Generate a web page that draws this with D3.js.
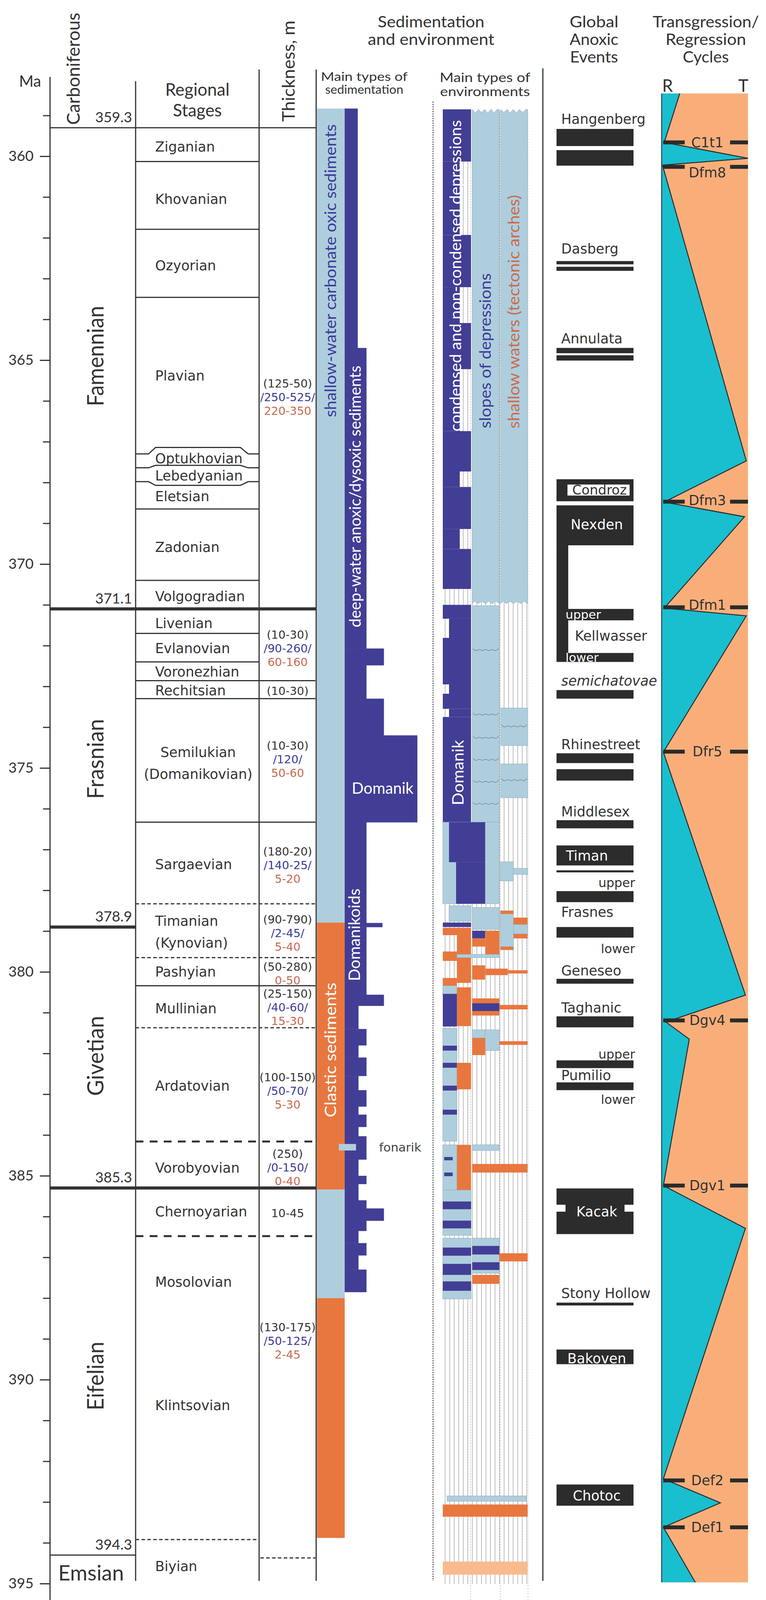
<!DOCTYPE html>
<html>
<head>
<meta charset="utf-8">
<script src="https://cdn.jsdelivr.net/npm/d3@7/dist/d3.min.js"></script>
<style>
body { margin: 0; background: #fff; }
svg { display: block; }
</style>
</head>
<body>
<svg id="chart" width="1960" height="4160"></svg>
<script>
// ---------- data (ages in Ma) ----------
const majorTicks = [360, 365, 370, 375, 380, 385, 390, 395];
const minorTicks = [359, 361, 362, 363, 364, 366, 367, 368, 369, 371, 372, 373, 374, 376, 377, 378, 379,
  381, 382, 383, 384, 386, 387, 388, 389, 391, 392, 393, 394];

const periodNames = ["Famennian", "Frasnian", "Givetian", "Eifelian"];
const periodLabelMa = [364.9, 374.78, 382.06, 389.91];
const boundaryAges = [359.3, 371.1, 378.9, 385.3, 394.3];

const stageLabels = [
  ["Ziganian", 359.77], ["Khovanian", 361.05], ["Ozyorian", 362.68], ["Plavian", 365.38],
  ["Optukhovian", 367.41], ["Lebedyanian", 367.83], ["Eletsian", 368.34], ["Zadonian", 369.59],
  ["Volgogradian", 370.79], ["Livenian", 371.45], ["Evlanovian", 372.07], ["Voronezhian", 372.64],
  ["Rechitsian", 373.10], ["Semilukian|(Domanikovian)", 374.88], ["Sargaevian", 377.36],
  ["Timanian|(Kynovian)", 379.02], ["Pashyian", 380.0], ["Mullinian", 380.9], ["Ardatovian", 382.79],
  ["Vorobyovian", 384.81], ["Chernoyarian", 385.88], ["Mosolovian", 387.6], ["Klintsovian", 390.63],
  ["Biyian", 394.58]
];

// [age, line kind, how far it reaches]
const stageBounds = [
  [360.13, "solid", "stage"], [361.79, "solid", "stage"], [363.46, "solid", "stage"],
  [368.65, "solid", "stage"], [370.4, "solid", "stage"], [371.7, "solid", "stage"],
  [372.4, "solid", "stage"], [372.86, "solid", "both"], [373.3, "solid", "both"],
  [376.33, "solid", "both"], [378.33, "dash", "both"], [379.65, "dash", "both"],
  [380.34, "solid", "both"], [381.37, "dash", "both"], [384.16, "bigdash", "both"],
  [386.48, "bigdash", "both"], [393.92, "dash", "stage"], [394.37, "dash", "thick"]
];
// Optukhovian / Lebedyanian lens boundaries: [age, bulge]
const lensBounds = [[367.30, -0.16], [367.64, -0.06], [367.98, 0.09]];

const thicknessNotes = [
  [365.91, [["(125-50)", "k"], ["/250-525/", "b"], ["220-350", "r"]]],
  [372.07, [["(10-30)", "k"], ["/90-260/", "b"], ["60-160", "r"]]],
  [373.11, [["(10-30)", "k"]]],
  [374.79, [["(10-30)", "k"], ["/120/", "b"], ["50-60", "r"]]],
  [377.38, [["(180-20)", "k"], ["/140-25/", "b"], ["5-20", "r"]]],
  [379.05, [["(90-790)", "k"], ["/2-45/", "b"], ["5-40", "r"]]],
  [380.04, [["(50-280)", "k"], ["0-50", "r"]]],
  [380.87, [["(25-150)", "k"], ["/40-60/", "b"], ["15-30", "r"]]],
  [382.92, [["(100-150)", "k"], ["/50-70/", "b"], ["5-30", "r"]]],
  [384.8, [["(250)", "k"], ["/0-150/", "b"], ["0-40", "r"]]],
  [385.92, [["10-45", "k"]]],
  [389.05, [["(130-175)", "k"], ["/50-125/", "b"], ["2-45", "r"]]]
];

// main types of sedimentation
const sedBase = [[358.83, 378.79, "carbonate"], [378.79, 385.34, "clastic"],
  [385.34, 388.0, "carbonate"], [388.0, 393.88, "clastic"]];
// deep-water anoxic sediments: [top, bottom, relative extent 0-10]
const anoxicSteps = [
  [358.83, 364.7, 1.8], [364.7, 372.07, 3.0], [372.07, 372.48, 5.4], [372.48, 373.3, 3.0],
  [373.3, 374.2, 5.4], [374.2, 376.33, 10], [376.33, 378.8, 3.0], [378.8, 378.9, 5.2],
  [378.9, 380.56, 3.0], [380.56, 380.83, 5.4], [380.83, 381.4, 1.9], [381.4, 381.8, 3.0],
  [381.8, 382.1, 1.9], [382.1, 382.55, 3.0], [382.55, 382.9, 1.9], [382.9, 383.3, 3.0],
  [383.3, 383.5, 1.9], [383.5, 383.8, 3.0], [383.8, 384.03, 1.9], [384.03, 384.6, 3.0],
  [384.6, 385.0, 1.9], [385.0, 385.2, 3.0], [385.2, 385.6, 1.9], [385.6, 385.8, 3.0],
  [385.8, 386.1, 5.4], [386.1, 386.35, 3.0], [386.35, 386.65, 1.9], [386.65, 386.95, 3.0],
  [386.95, 387.3, 1.9], [387.3, 387.85, 3.0]
];
const fonarik = [384.22, 384.38];

// main types of environments: [type, top, bottom, from, to] (0-1 depressions, 1-2 slopes, 2-3 shallow)
const envBlocks = [
  ["d", 358.85, 360.13, 0, 1], ["d", 360.13, 361.93, 0, 0.6], ["d", 361.93, 363.21, 0, 1],
  ["d", 363.21, 364.09, 0, 0.6], ["d", 364.09, 365.22, 0, 1], ["d", 365.22, 366.74, 0, 0.6],
  ["d", 366.74, 367.73, 0, 1], ["d", 367.73, 368.11, 0, 0.6], ["d", 368.11, 369.14, 0, 1],
  ["d", 369.14, 369.63, 0, 0.6], ["d", 369.63, 370.61, 0, 1],
  ["d", 371.0, 371.34, 0, 1], ["d", 371.34, 371.81, 0.22, 1], ["d", 371.81, 372.95, 0, 1],
  ["d", 372.95, 373.18, 0.22, 1], ["d", 373.18, 373.55, 0, 1], ["d", 373.55, 373.75, 0.22, 1],
  ["d", 373.75, 376.33, 0, 1],
  ["l", 371.02, 376.33, 1.04, 2], ["l", 373.53, 374.45, 2.05, 3], ["l", 374.9, 375.73, 2.05, 3],
  ["l", 376.33, 378.33, 0, 2], ["d", 376.33, 377.31, 0.22, 1.5], ["d", 377.31, 378.33, 0.47, 1.5],
  ["l", 377.30, 377.77, 2.04, 2.5], ["l", 377.46, 377.61, 2.5, 3],
  ["l", 378.38, 378.76, 0.22, 1], ["l", 378.42, 378.96, 1.04, 2], ["l", 378.5, 379.46, 2.04, 2.5],
  ["o", 378.5, 378.58, 2.04, 2.5], ["o", 379.38, 379.46, 2.04, 2.5], ["o", 378.67, 378.84, 2.5, 3],
  ["l", 378.84, 379.07, 2.5, 3], ["o", 379.07, 379.18, 2.5, 3], ["d", 378.79, 378.9, 0, 1],
  ["o", 378.92, 379.1, 0, 1], ["o", 379.1, 380.27, 0.5, 1], ["d", 378.99, 379.18, 1.04, 1.5],
  ["o", 379.18, 379.38, 1.04, 1.5], ["o", 378.99, 379.62, 1.5, 2], ["o", 379.5, 379.73, 0, 0.5],
  ["l", 379.57, 379.65, 0.5, 2], ["o", 379.84, 380.19, 1.04, 1.5], ["o", 379.92, 380.08, 1.5, 2.3],
  ["o", 379.96, 380.04, 2.3, 3], ["o", 380.15, 380.34, 0, 0.5], ["l", 380.34, 380.54, 0, 0.5],
  ["d", 380.54, 381.34, 0, 0.5], ["o", 380.38, 381.33, 0.5, 1], ["o", 380.65, 381.07, 1.04, 2],
  ["d", 380.77, 380.96, 1.04, 2], ["o", 380.81, 380.92, 2, 3],
  ["l", 381.38, 384.15, 0, 0.5], ["d", 381.81, 381.93, 0, 0.5], ["d", 382.23, 382.35, 0, 0.5],
  ["d", 382.79, 382.91, 0, 0.5], ["d", 383.38, 383.5, 0, 0.5], ["l", 381.42, 381.62, 1.04, 1.5],
  ["l", 381.42, 381.93, 1.5, 2], ["o", 381.62, 382.04, 1.04, 1.5], ["o", 381.7, 381.79, 2, 3],
  ["o", 382.23, 382.88, 0.5, 1],
  ["l", 384.24, 385.35, 0, 0.5], ["d", 384.54, 384.62, 0.05, 0.35], ["d", 384.92, 385.01, 0.05, 0.35],
  ["o", 384.24, 385.35, 0.5, 1], ["l", 384.24, 384.38, 1.04, 2], ["o", 384.71, 384.92, 1.04, 3],
  ["l", 385.35, 386.46, 0, 1], ["d", 385.63, 385.82, 0, 1], ["d", 386.1, 386.29, 0, 1],
  ["l", 386.53, 388.02, 0, 1], ["d", 386.76, 386.96, 0, 1], ["d", 387.16, 387.43, 0, 1],
  ["d", 387.59, 387.82, 0, 1], ["l", 386.53, 387.39, 1.04, 2], ["d", 386.72, 386.93, 1.04, 2],
  ["d", 387.12, 387.31, 1.04, 2], ["o", 387.43, 387.65, 1.04, 2], ["o", 386.9, 387.1, 2, 3],
  ["l", 392.85, 392.98, 0.15, 2.95], ["o", 393.06, 393.36, 0, 3], ["p", 394.46, 394.78, 0, 3]
];
// upper light-blue slope / shallow-water bands with ragged edges
const envRagged = [[358.85, 370.97, 1.04, 2], [358.85, 370.97, 2.05, 3]];
// wavy bedding lines: [age, from, to]
const envWaves = [[372.11, 1.04, 2], [373.69, 1.04, 2], [374.26, 1.04, 2], [374.8, 1.04, 2],
  [375.34, 1.04, 2], [375.88, 1.04, 2], [373.98, 2.05, 3], [375.3, 2.05, 3]];

// global anoxic events
const eventBars = [[359.33, 359.75], [359.85, 360.23], [362.57, 362.65], [362.71, 362.81],
  [364.70, 364.83], [364.88, 365.01], [371.10, 371.38], [372.18, 372.40], [373.09, 373.30],
  [374.64, 374.88], [375.03, 375.31], [376.28, 376.48], [377.51, 377.56], [378.02, 378.29],
  [378.90, 379.16], [380.17, 380.29], [381.09, 381.36], [382.17, 382.36], [382.71, 382.90],
  [388.11, 388.18]];
const eventBlocks = [[367.92, 368.46], [368.56, 369.54], [376.90, 377.39], [385.31, 386.43],
  [389.26, 389.62], [392.57, 393.09]];
const kellwasserStem = [369.54, 372.38];
const condrozGap = [368.05, 368.32];
const kacakNotch = [385.71, 385.88];
const eventLabels = [
  ["Hangenberg", 359.09, "name"], ["Dasberg", 362.27, "name"], ["Annulata", 364.47, "name"],
  ["Condroz", 368.18, "framed"], ["Nexden", 369.03, "inner"], ["upper", 371.24, "kwIn"],
  ["Kellwasser", 371.76, "kw"], ["lower", 372.29, "kwIn"], ["semichatovae", 372.86, "italic"],
  ["Rhinestreet", 374.42, "name"], ["Middlesex", 376.07, "name"], ["Timan", 377.15, "innerLeft"],
  ["upper", 377.81, "sub"], ["Frasnes", 378.53, "name"], ["lower", 379.43, "sub"],
  ["Geneseo", 379.97, "name"], ["Taghanic", 380.88, "name"], ["upper", 382.02, "sub"],
  ["Pumilio", 382.54, "name"], ["lower", 383.13, "sub"], ["Kacak", 385.88, "inner"],
  ["Stony Hollow", 387.88, "name"], ["Bakoven", 389.48, "inner"], ["Chotoc", 392.84, "inner"]
];

// transgression / regression curve: 0 = full regression, 1 = full transgression
const trMa = [358.46, 359.66, 360.05, 360.22, 367.47, 368.48, 368.84, 371.08, 371.27, 374.61,
  380.57, 381.23, 381.65, 385.24, 386.29, 392.43, 393.02, 393.62, 394.97];
const trLevel = [0.21, 0.03, 1.0, 0.01, 0.98, 0.03, 0.96, 0.03, 0.98, 0.02,
  0.97, 0.05, 0.32, 0.02, 0.97, 0.02, 0.68, 0.02, 0.39];
const seqNames = ["C1t1", "Dfm8", "Dfm3", "Dfm1", "Dfr5", "Dgv4", "Dgv1", "Def2", "Def1"];
const seqMa = [359.66, 360.26, 368.47, 371.06, 374.6, 381.19, 385.24, 392.47, 393.62];
const seqLabelMa = [359.66, 360.40, 368.44, 371.0, 374.6, 381.19, 385.24, 392.47, 393.62];

// ---------- style ----------
const ink = "#333333";
const darkBlue = "#423e95";
const lightBlue = "#aecedd";
const clastic = "#e8773f";
const paleOrange = "#f8bb8d";
const cyan = "#19becf";
const peach = "#f9ae7a";
const evBlack = "#2c2c2c";
const txtBlue = "#3d3a99";
const txtBrown = "#cc6a4c";
const fCal = "Lato, 'Open Sans', sans-serif";
const fVer = "'DejaVu Sans', Verdana, sans-serif";
const noteColor = { k: ink, b: "#3b3b9b", r: "#c8694f" };
const envColor = { d: darkBlue, l: lightBlue, o: clastic, p: paleOrange };

// ---------- scales ----------
const y = d3.scaleLinear().domain([360, 395]).range([400, 4054]);
const xAnox = d3.scaleLinear().domain([0, 10]).range([882, 1068]);
const xEnv = d3.scaleLinear().domain([0, 3]).range([1133, 1350]);
const xTR = d3.scaleLinear().domain([0, 1]).range([1693, 1914]);

const svg = d3.select("#chart");
svg.append("rect").attr("width", 1960).attr("height", 4160).attr("fill", "#fff");

function hText(sel, txt, x, yy, size, opts = {}) {
  const t = sel.append("text").attr("x", x).attr("y", yy)
    .attr("font-family", opts.family || fCal).attr("font-size", size)
    .attr("fill", opts.fill || ink).attr("text-anchor", opts.anchor || "middle")
    .attr("dy", opts.dy || null).attr("font-style", opts.italic ? "italic" : null)
    .text(txt);
  if (opts.len) t.attr("textLength", opts.len).attr("lengthAdjust", "spacingAndGlyphs");
  return t;
}
// several lines in one text element
function mText(sel, lines, x, y0, size, lh, opts = {}) {
  const t = sel.append("text")
    .attr("font-family", opts.family || fCal).attr("font-size", size)
    .attr("fill", opts.fill || ink).attr("text-anchor", opts.anchor || "middle");
  lines.forEach((l, i) => {
    const s = t.append("tspan").attr("x", x).attr("y", y0 + i * lh).attr("dy", opts.dy || null);
    if (Array.isArray(l)) s.attr("fill", l[1]).text(l[0]); else s.text(l);
  });
  return t;
}
function vText(sel, txt, cx, cy, size, len, fill) {
  return sel.append("text")
    .attr("transform", `translate(${cx},${cy}) rotate(-90)`)
    .attr("text-anchor", "middle").attr("dy", "0.35em")
    .attr("font-family", fCal).attr("font-size", size).attr("fill", fill)
    .attr("textLength", len).attr("lengthAdjust", "spacingAndGlyphs")
    .text(txt);
}

// ---------- headers ----------
const head = svg.append("g");
hText(head, "Ma", 77, 222, 40);
vText(head, "Carboniferous", 188, 176, 46, 287, ink);
mText(head, ["Regional", "Stages"], 505, 245, 44, 53);
vText(head, "Thickness, m", 739, 182, 44, 259, ink);
// tight multi-line headers: stretched to the widths of the original lettering
[["Sedimentation", 273, 70], ["and environment", 324, 115]].forEach(([t, w, yy]) =>
  hText(head, t, 1103, yy, 40, { len: w }));
hText(head, "Main types of", 932, 207, 31, { len: 222 });
hText(head, "sedimentation", 932, 240, 31, { len: 200 });
hText(head, "Main types of", 1241, 210, 33, { len: 232 });
hText(head, "environments", 1241, 246, 33, { len: 230 });
[["Global", 125], ["Anoxic", 125], ["Events", 123]].forEach(([t, w], i) =>
  hText(head, t, 1520, 70 + i * 45, 40, { len: w }));
[["Transgression/", 272], ["Regression", 206], ["Cycles", 118]].forEach(([t, w], i) =>
  hText(head, t, 1806, 70 + i * 45, 40, { len: w }));

// ---------- time axis ----------
const gMajor = svg.append("g").attr("transform", "translate(128,0)")
  .call(d3.axisLeft(y).tickValues(majorTicks).tickSize(26).tickPadding(16).tickFormat(d3.format("d")));
const gMinor = svg.append("g").attr("transform", "translate(128,0)")
  .call(d3.axisLeft(y).tickValues(minorTicks).tickSize(18).tickFormat(""));
[gMajor, gMinor].forEach(g => {
  g.select(".domain").remove();
  g.selectAll("line").attr("stroke", ink).attr("stroke-width", 3);
});
gMajor.selectAll("text").attr("font-family", fCal).attr("font-size", 37).attr("fill", ink);
svg.append("line").attr("x1", 128).attr("x2", 128).attr("y1", 197).attr("y2", 4113)
  .attr("stroke", ink).attr("stroke-width", 3);

// column frames
const frame = svg.append("g").attr("stroke", ink).attr("stroke-width", 3);
[[347, 208], [663, 178], [809, 178], [1389, 175]].forEach(([x, top]) => {
  frame.append("line").attr("x1", x).attr("x2", x).attr("y1", top).attr("y2", 4047);
});

// ---------- periods ----------
const gPer = svg.append("g");
const periodLineSpan = { 359.3: [128, 809, 3], 371.1: [128, 809, 8], 378.9: [128, 347, 8],
  385.3: [128, 809, 8], 394.3: [128, 347, 3] };
boundaryAges.forEach(a => {
  const [x1, x2, w] = periodLineSpan[a];
  gPer.append("line").attr("x1", x1).attr("x2", x2).attr("y1", y(a)).attr("y2", y(a))
    .attr("stroke", ink).attr("stroke-width", w);
  hText(gPer, d3.format(".1f")(a), 338, y(a) - 14, 37, { anchor: "end" });
});
const periodLen = [257, 205, 205, 176];
periodNames.forEach((n, i) => vText(gPer, n, 245, y(periodLabelMa[i]), 58, periodLen[i], ink));
hText(gPer, "Emsian", 233, y(394.74), 54, { dy: "0.35em" });

// ---------- regional stages ----------
const gSt = svg.append("g");
const boundReach = { stage: [347, 663], both: [347, 807], thick: [666, 807] };
const dashStyle = { solid: null, dash: "9,6", bigdash: "20,16" };
stageBounds.forEach(([a, kind, reach]) => {
  const [x1, x2] = boundReach[reach];
  gSt.append("line").attr("x1", x1).attr("x2", x2).attr("y1", y(a)).attr("y2", y(a))
    .attr("stroke", ink).attr("stroke-width", kind === "bigdash" ? 5 : 3)
    .attr("stroke-dasharray", dashStyle[kind]);
});
lensBounds.forEach(([a, b]) => {
  const y0 = y(a), y1 = y(a + b);
  gSt.append("path").attr("fill", "none").attr("stroke", ink).attr("stroke-width", 3)
    .attr("d", d3.line()([[347, y0], [380, y0], [398, y1], [615, y1], [635, y0], [663, y0]]));
});
stageLabels.forEach(([name, ma]) => {
  const parts = name.split("|");
  const centred = name.startsWith("Semilukian");
  mText(gSt, parts, centred ? 507 : 397, y(ma) - (parts.length - 1) * 28, 35, 56,
    { family: fVer, anchor: centred ? "middle" : "start", dy: "0.35em" });
});

// thickness
const gTh = svg.append("g");
thicknessNotes.forEach(([ma, lines]) => {
  mText(gTh, lines.map(([t, c]) => [t, noteColor[c]]), 736, y(ma) - (lines.length - 1) * 17.5,
    29, 35, { family: fVer, dy: "0.35em" });
});

// ---------- sedimentation ----------
const gSed = svg.append("g");
gSed.selectAll("rect.base").data(sedBase).join("rect")
  .attr("x", 811).attr("width", 71)
  .attr("y", d => y(d[0])).attr("height", d => y(d[1]) - y(d[0]))
  .attr("fill", d => d[2] === "clastic" ? clastic : lightBlue);
gSed.selectAll("rect.anox").data(anoxicSteps).join("rect")
  .attr("x", xAnox(0)).attr("width", d => xAnox(d[2]) - xAnox(0))
  .attr("y", d => y(d[0])).attr("height", d => y(d[1]) - y(d[0]) + 0.5)
  .attr("fill", darkBlue);
gSed.append("rect").attr("x", 867).attr("width", 44).attr("y", y(fonarik[0]))
  .attr("height", y(fonarik[1]) - y(fonarik[0])).attr("fill", lightBlue);
hText(gSed, "fonarik", 970, y(384.3), 31, { family: fVer, anchor: "start", dy: "0.35em", fill: "#444" });
vText(gSed, "shallow-water carbonate oxic sediments", 846, 693, 40, 750, txtBlue);
vText(gSed, "deep-water anoxic/dysoxic sediments", 909, 1271, 40, 670, "#fff");
hText(gSed, "Domanik", 979, y(375.5), 40, { fill: "#fff", dy: "0.35em" });
vText(gSed, "Domanikoids", 907, 2393, 40, 237, "#fff");
vText(gSed, "Clastic sediments", 846, 2688, 40, 345, "#fff");

// ---------- environments ----------
const gEnv = svg.append("g");
gEnv.append("line").attr("x1", 1108).attr("x2", 1108).attr("y1", 260).attr("y2", 4047)
  .attr("stroke", "#444").attr("stroke-width", 2.5).attr("stroke-dasharray", "3,3");
const hatch = gEnv.append("g").attr("stroke", "#a9a9a9").attr("stroke-width", 1.5);
for (let x = 1139; x <= 1348; x += 11.6) {
  hatch.append("line").attr("x1", x).attr("x2", x).attr("y1", y(358.9)).attr("y2", 4055);
}
[1204, 1280, 1351].forEach(x => {
  gEnv.append("line").attr("x1", x).attr("x2", x).attr("y1", y(358.9)).attr("y2", 4150)
    .attr("stroke", "#b8b8b8").attr("stroke-width", 1.5).attr("stroke-dasharray", "3,4");
});
function raggedPath(x0, x1, y0, y1) {
  const pts = [];
  let up = true;
  for (let x = x0; x < x1; x += 8) { pts.push([x, up ? y0 : y0 + 9]); up = !up; }
  pts.push([x1, y0]);
  up = true;
  for (let x = x1; x > x0; x -= 9) { pts.push([x, up ? y1 : y1 - 6]); up = !up; }
  pts.push([x0, y1]);
  return "M" + pts.map(p => p.join(",")).join("L") + "Z";
}
envRagged.forEach(([t, b, u0, u1]) => {
  gEnv.append("path").attr("d", raggedPath(xEnv(u0), xEnv(u1), y(t), y(b)))
    .attr("fill", lightBlue).attr("stroke", "#8fa9b5").attr("stroke-width", 1);
});
gEnv.selectAll("rect.env").data(envBlocks).join("rect")
  .attr("x", d => xEnv(d[3])).attr("width", d => xEnv(d[4]) - xEnv(d[3]))
  .attr("y", d => y(d[1])).attr("height", d => y(d[2]) - y(d[1]))
  .attr("fill", d => envColor[d[0]])
  .attr("stroke", d => d[0] === "l" ? "#93adb9" : "none").attr("stroke-width", 1);
envWaves.forEach(([a, u0, u1]) => {
  const x0 = xEnv(u0) + 2, x1 = xEnv(u1) - 2, yy = y(a);
  const pts = d3.range(0, 9).map(i => [x0 + (x1 - x0) * i / 8, yy + (i % 2 ? 4 : -4)]);
  gEnv.append("path").attr("d", d3.line().curve(d3.curveBasis)(pts))
    .attr("fill", "none").attr("stroke", "#6f8d9c").attr("stroke-width", 1.5);
});
vText(gEnv, "condensed and non-condensed depressions", 1166, 706, 40, 797, "#fff");
vText(gEnv, "slopes of depressions", 1242, 898, 40, 397, txtBlue);
vText(gEnv, "shallow waters (tectonic arches)", 1315, 798, 40, 598, txtBrown);
vText(gEnv, "Domanik", 1172, 1978, 40, 167, "#fff");

// ---------- global anoxic events ----------
const gEv = svg.append("g");
gEv.selectAll("rect.bar").data(eventBars.concat(eventBlocks)).join("rect")
  .attr("x", 1424).attr("width", 197)
  .attr("y", d => y(d[0])).attr("height", d => y(d[1]) - y(d[0]))
  .attr("fill", evBlack);
gEv.append("rect").attr("x", 1424).attr("width", 30).attr("y", y(kellwasserStem[0]))
  .attr("height", y(kellwasserStem[1]) - y(kellwasserStem[0])).attr("fill", evBlack);
gEv.append("rect").attr("x", 1452).attr("width", 159).attr("y", y(condrozGap[0]))
  .attr("height", y(condrozGap[1]) - y(condrozGap[0])).attr("fill", "#fff");
[[1424, 23], [1598, 23]].forEach(([x, w]) => {
  gEv.append("rect").attr("x", x).attr("width", w).attr("y", y(kacakNotch[0]))
    .attr("height", y(kacakNotch[1]) - y(kacakNotch[0])).attr("fill", "#fff");
});
eventLabels.forEach(([t, ma, kind]) => {
  const yy = y(ma);
  const o = { family: fVer, dy: "0.35em" };
  if (kind === "name") hText(gEv, t, 1436, yy, 35, { ...o, anchor: "start" });
  else if (kind === "italic") hText(gEv, t, 1436, yy, 35, { ...o, anchor: "start", italic: true });
  else if (kind === "sub") hText(gEv, t, 1625, yy, 32, { ...o, anchor: "end" });
  else if (kind === "framed") hText(gEv, t, 1534, yy, 34, o);
  else if (kind === "inner") hText(gEv, t, 1527, yy, 35, { ...o, fill: "#fff" });
  else if (kind === "innerLeft") hText(gEv, t, 1448, yy, 35, { ...o, anchor: "start", fill: "#fff" });
  else if (kind === "kwIn") hText(gEv, t, 1447, yy, 31, { ...o, anchor: "start", fill: "#fff" });
  else if (kind === "kw") hText(gEv, t, 1471, yy, 35, { ...o, anchor: "start" });
});

// ---------- transgression / regression ----------
const gTR = svg.append("g");
const trPts = trMa.map((m, i) => [xTR(trLevel[i]), y(m)]);
gTR.append("rect").attr("x", xTR(0)).attr("width", xTR(1) - xTR(0))
  .attr("y", y(trMa[0])).attr("height", y(trMa[trMa.length - 1]) - y(trMa[0])).attr("fill", peach);
gTR.append("path")
  .attr("d", d3.line()([[xTR(0), y(trMa[0])], ...trPts, [xTR(0), y(trMa[trMa.length - 1])]]) + "Z")
  .attr("fill", cyan);
gTR.append("path").attr("d", d3.line()(trPts)).attr("fill", "none")
  .attr("stroke", "#2b2b2b").attr("stroke-width", 2.5);
gTR.append("line").attr("x1", xTR(0)).attr("x2", xTR(0))
  .attr("y1", y(trMa[0])).attr("y2", y(trMa[trMa.length - 1]))
  .attr("stroke", "#2d5a62").attr("stroke-width", 3);
seqMa.forEach((m, i) => {
  [[1697, 55], [1868, 46]].forEach(([x, w]) => {
    gTR.append("rect").attr("x", x).attr("width", w).attr("y", y(m) - 5).attr("height", 10)
      .attr("fill", "#2b2b2b");
  });
  hText(gTR, seqNames[i], 1810, y(seqLabelMa[i]), 35, { family: fVer, dy: "0.35em" });
});
hText(gTR, "R", 1708, 220, 44, { dy: "0.35em" });
hText(gTR, "T", 1902, 220, 44, { dy: "0.35em" });
</script>
</body>
</html>
